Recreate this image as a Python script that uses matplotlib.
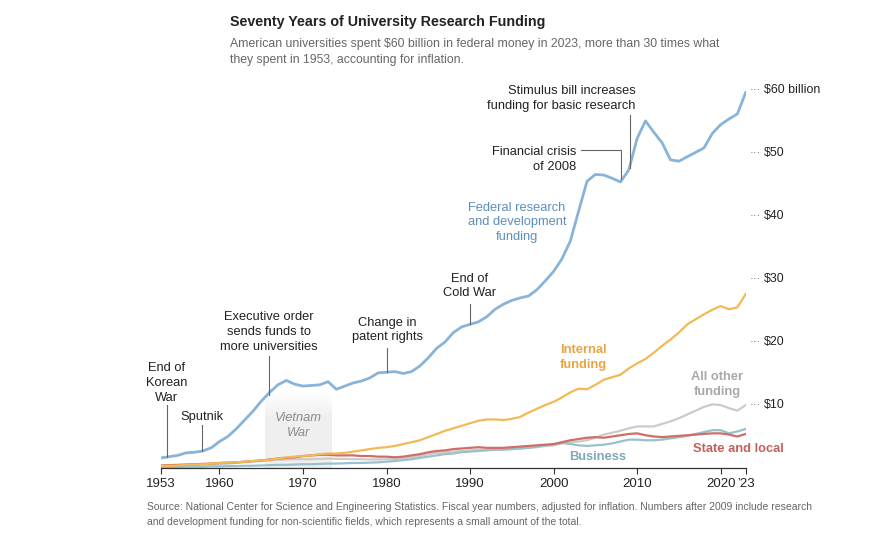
import matplotlib

matplotlib.use("Agg")
import matplotlib.pyplot as plt
import numpy as np
from matplotlib import font_manager

# --- данные (млрд долл., с поправкой на инфляцию) ---
YEARS = list(range(1953, 2024))

FEDERAL = [
    1.6, 1.8, 2.0, 2.4, 2.5, 2.7, 3.2,                      # 1953-1959
    4.2, 5.0, 6.2, 7.6, 9.0, 10.6, 12.0, 13.2, 13.9, 13.3,  # 1960-1969
    13.0, 13.1, 13.2, 13.7, 12.5, 13.0, 13.5, 13.8, 14.3, 15.1,
    15.2, 15.3, 15.0, 15.3, 16.2, 17.5, 19.0, 20.0, 21.5, 22.4,
    22.8, 23.2, 24.0, 25.2, 26.0, 26.6, 27.0, 27.3, 28.3, 29.7,
    31.2, 33.2, 36.0, 40.8, 45.5, 46.6, 46.5, 46.0, 45.4, 47.3,
    52.3, 55.1, 53.3, 51.6, 48.9, 48.7, 49.4, 50.1, 50.8, 53.1,
    54.5, 55.4, 56.2, 59.6,
]
INTERNAL = [
    0.3, 0.35, 0.4, 0.5, 0.55, 0.6, 0.7,
    0.8, 0.85, 0.9, 1.0, 1.1, 1.2, 1.3, 1.5, 1.7, 1.8,
    1.9, 2.0, 2.2, 2.3, 2.3, 2.4, 2.6, 2.8, 3.0, 3.2,
    3.3, 3.5, 3.8, 4.1, 4.4, 4.9, 5.4, 5.9, 6.3, 6.7,
    7.1, 7.5, 7.7, 7.7, 7.6, 7.8, 8.1, 8.8, 9.4, 10.0,
    10.5, 11.2, 12.0, 12.6, 12.5, 13.2, 14.0, 14.4, 14.8, 15.8,
    16.6, 17.3, 18.3, 19.4, 20.4, 21.5, 22.8, 23.6, 24.4, 25.1,
    25.7, 25.2, 25.5, 27.6,
]
STATE_LOCAL = [
    0.4, 0.45, 0.5, 0.55, 0.6, 0.65, 0.7,
    0.8, 0.85, 0.9, 1.0, 1.1, 1.2, 1.35, 1.5, 1.6, 1.7,
    1.9, 2.0, 2.1, 2.1, 2.0, 2.0, 2.0, 1.9, 1.9, 1.8,
    1.8, 1.7, 1.8, 2.0, 2.2, 2.5, 2.7, 2.8, 3.0, 3.1,
    3.2, 3.3, 3.2, 3.2, 3.2, 3.3, 3.4, 3.5, 3.6, 3.7,
    3.8, 4.1, 4.4, 4.6, 4.8, 4.9, 4.8, 5.0, 5.2, 5.4,
    5.5, 5.2, 5.0, 4.9, 5.0, 5.1, 5.2, 5.3, 5.4, 5.5,
    5.5, 5.3, 5.0, 5.4,
]
ALL_OTHER = [
    0.3, 0.3, 0.35, 0.4, 0.45, 0.5, 0.55,
    0.6, 0.7, 0.8, 0.9, 1.0, 1.1, 1.2, 1.3, 1.35, 1.4,
    1.4, 1.4, 1.45, 1.5, 1.45, 1.45, 1.4, 1.4, 1.35, 1.35,
    1.4, 1.4, 1.5, 1.7, 1.9, 2.2, 2.4, 2.5, 2.6, 2.7,
    2.8, 2.9, 2.9, 2.9, 3.0, 3.0, 3.1, 3.2, 3.3, 3.5,
    3.6, 3.9, 4.1, 4.2, 4.4, 4.8, 5.3, 5.6, 5.9, 6.3,
    6.6, 6.6, 6.6, 7.0, 7.4, 7.9, 8.5, 9.1, 9.7, 10.1,
    10.0, 9.5, 9.1, 10.0,
]
BUSINESS = [
    0.15, 0.15, 0.15, 0.2, 0.2, 0.2, 0.25,
    0.25, 0.3, 0.3, 0.35, 0.35, 0.4, 0.45, 0.5, 0.5, 0.55,
    0.6, 0.6, 0.65, 0.7, 0.7, 0.75, 0.8, 0.8, 0.85, 0.9,
    1.0, 1.1, 1.25, 1.4, 1.6, 1.8, 2.0, 2.2, 2.3, 2.5,
    2.6, 2.7, 2.8, 2.9, 2.9, 3.0, 3.1, 3.2, 3.4, 3.6,
    3.7, 4.0, 3.8, 3.6, 3.5, 3.6, 3.7, 3.9, 4.2, 4.5,
    4.5, 4.4, 4.4, 4.5, 4.7, 4.9, 5.1, 5.4, 5.7, 6.0,
    6.0, 5.5, 5.8, 6.2,
]

Y_TICKS = [10, 20, 30, 40, 50, 60]
Y_LABELS = ["$10", "$20", "$30", "$40", "$50", "$60 billion"]
X_TICKS = [1953, 1960, 1970, 1980, 1990, 2000, 2010, 2020, 2023]
X_LABELS = ["1953", "1960", "1970", "1980", "1990", "2000", "2010", "2020", "\u201923"]

C_FED, C_FED_TXT = "#88b4d9", "#5d8fbd"
C_INT, C_INT_TXT = "#f2b955", "#eba33f"
C_OTH, C_OTH_TXT = "#cbcbcb", "#a8a8a8"
C_STL, C_STL_TXT = "#cf6e66", "#c4615a"
C_BUS, C_BUS_TXT = "#99c1cd", "#7ea8b8"
C_TXT = "#222222"
FS = 9.3    # кегль подписей
LS = 1.3    # межстрочный интервал подписей

names = {f.name for f in font_manager.fontManager.ttflist}
NARROW = "Liberation Sans Narrow" if "Liberation Sans Narrow" in names else "Liberation Sans"
plt.rcParams["font.family"] = [NARROW, "DejaVu Sans"]

fig = plt.figure(figsize=(8.94, 5.38), dpi=100)
ax = fig.add_axes([161 / 894, 1 - 468 / 538, (745.7 - 161) / 894, (468 - 90) / 538])
ax.set_xlim(1953, 2023)
ax.set_ylim(0, 60)

# Вьетнамская война: светло-серый прямоугольник, сверху растворяется
grad = np.ones((100, 1, 4))
grad[..., :3] = 0.94
grad[:, 0, 3] = np.clip(np.linspace(3.0, 0.0, 100), 0, 1)
ax.imshow(grad, extent=[1965.4, 1973.4, 0, 12.0], aspect="auto", origin="lower",
          zorder=0, interpolation="bilinear")
ax.text(1969.5, 6.8, "Vietnam\nWar", ha="center", va="center", fontsize=FS,
        style="italic", color="#8c8c8c", linespacing=LS)

ax.plot(YEARS, ALL_OTHER, color=C_OTH, lw=1.6, zorder=2)
ax.plot(YEARS, BUSINESS, color=C_BUS, lw=1.6, zorder=2)
ax.plot(YEARS, STATE_LOCAL, color=C_STL, lw=1.6, zorder=3)
ax.plot(YEARS, INTERNAL, color=C_INT, lw=1.6, zorder=3)
ax.plot(YEARS, FEDERAL, color=C_FED, lw=2.0, zorder=4)

# оси
for s in ("top", "right", "left"):
    ax.spines[s].set_visible(False)
ax.spines["bottom"].set_color("#333333")
ax.spines["bottom"].set_linewidth(0.9)
ax.set_yticks([])
ax.set_xticks(X_TICKS, X_LABELS)
ax.tick_params(axis="x", length=4, width=0.8, color="#333333", pad=3,
               labelsize=9.5, labelcolor=C_TXT)

# подписи шкалы справа
for v, lab in zip(Y_TICKS, Y_LABELS):
    ax.text(2023.5, v, "\u00b7\u00b7\u00b7", ha="left", va="center", fontsize=8,
            color="#555555", clip_on=False)
    ax.text(2025.2, v, lab, ha="left", va="center", fontsize=8.9, color=C_TXT,
            clip_on=False)


def note(x, y, text, y0, y1):
    """Подпись события с вертикальной выноской."""
    ax.text(x, y, text, ha="center", va="center", fontsize=FS,
            color=C_TXT, linespacing=LS, clip_on=False)
    ax.plot([x, x], [y0, y1], color="#666666", lw=0.8, zorder=5)


note(1953.7, 13.5, "End of\nKorean\nWar", 10.0, 1.7)
note(1957.9, 8.05, "Sputnik", 6.8, 2.7)
note(1965.9, 21.6, "Executive order\nsends funds to\nmore universities", 17.7, 11.6)
note(1980.1, 21.9, "Change in\npatent rights", 19.0, 15.3)
note(1990.0, 28.9, "End of\nCold War", 26.0, 22.8)

ax.text(2002.7, 49.0, "Financial crisis\nof 2008", ha="right", va="center", fontsize=FS,
        color=C_TXT, linespacing=LS)
ax.plot([2003.3, 2008.1, 2008.1], [50.5, 50.5, 45.8], color="#666666", lw=0.8, zorder=5)

ax.text(2009.8, 58.7, "Stimulus bill increases\nfunding for basic research", ha="right",
        va="center", fontsize=FS, color=C_TXT, linespacing=LS)
ax.plot([2009.1, 2009.1], [56.1, 47.6], color="#666666", lw=0.8, zorder=5)

# подписи рядов
ax.text(1995.6, 39.0, "Federal research\nand development\nfunding", ha="center", va="center",
        fontsize=FS, color=C_FED_TXT, linespacing=LS)
ax.text(2003.6, 17.5, "Internal\nfunding", ha="center", va="center", fontsize=FS,
        color=C_INT_TXT, fontweight="bold", linespacing=LS)
ax.text(2019.6, 13.2, "All other\nfunding", ha="center", va="center", fontsize=FS,
        color=C_OTH_TXT, fontweight="bold", linespacing=LS)
ax.text(2022.1, 2.97, "State and local", ha="center", va="center", fontsize=FS,
        color=C_STL_TXT, fontweight="bold", clip_on=False)
ax.text(2005.3, 1.7, "Business", ha="center", va="center", fontsize=FS,
        color=C_BUS_TXT, fontweight="bold")

# заголовок, подзаголовок, источник
fig.text(230 / 894, 1 - 22 / 538, "Seventy Years of University Research Funding",
         ha="left", va="center", fontsize=10.3, fontweight="bold", color=C_TXT)
fig.text(230 / 894, 1 - 52 / 538,
         "American universities spent $60 billion in federal money in 2023, more than 30 times what\n"
         "they spent in 1953, accounting for inflation.",
         ha="left", va="center", fontsize=8.8, color="#666666", linespacing=1.45)
fig.text(147 / 894, 1 - 514.5 / 538,
         "Source: National Center for Science and Engineering Statistics. Fiscal year numbers, "
         "adjusted for inflation. Numbers after 2009 include research\n"
         "and development funding for non-scientific fields, which represents a small amount "
         "of the total.",
         ha="left", va="center", fontsize=7.5, color="#666666", linespacing=1.55)

fig.savefig("out.png", dpi=100)
